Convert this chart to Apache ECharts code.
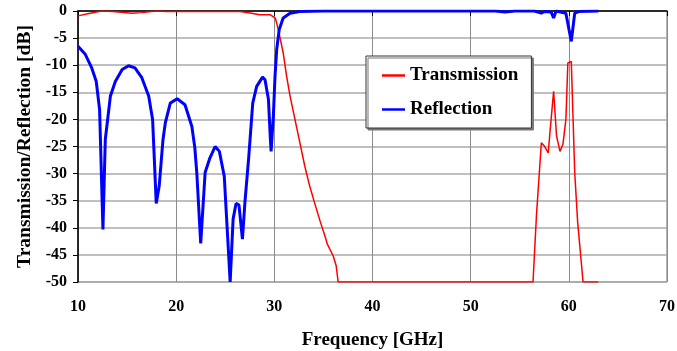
<!DOCTYPE html>
<html>
<head>
<meta charset="utf-8">
<script src="https://cdn.jsdelivr.net/npm/echarts@6/dist/echarts.min.js"></script>
<style>
  html, body { margin: 0; padding: 0; background: #fff; }
  #chart { width: 677px; height: 351px; }
</style>
</head>
<body>
<div id="chart"></div>
<script>
// 轴刻度
const xTicks = [10, 20, 30, 40, 50, 60, 70];
const yTicks = [0, -5, -10, -15, -20, -25, -30, -35, -40, -45, -50];

// Transmission (红线)
const transFreq = [10, 11, 12.4, 13.5, 14.4, 15.5, 16.5, 18, 19, 22, 25, 26.5, 27.7, 28.5, 29.6, 30.1, 30.4, 30.9, 31.25, 31.6, 32.1, 32.6, 33.1, 33.6, 34.1, 34.7, 35.05, 35.4, 36.0, 36.3, 36.5, 56.35, 56.7, 57.2, 57.5, 57.9, 58.1, 58.45, 58.75, 59.1, 59.4, 59.7, 59.9, 60.25, 60.6, 60.9, 61.3, 61.45, 63.0];
const transDb = [-0.9, -0.5, 0, -0.1, -0.25, -0.4, -0.3, 0, -0.1, -0.1, -0.1, -0.1, -0.4, -0.7, -0.7, -1.3, -3.4, -7.7, -12.0, -15.7, -20.0, -24.3, -28.6, -32.3, -35.4, -39.0, -40.9, -43.0, -45.2, -47.0, -50, -50, -37.8, -24.3, -24.9, -26.2, -21.9, -14.8, -23.1, -25.9, -24.6, -20.0, -9.6, -9.3, -29.8, -39.0, -47.0, -50, -50];

// Reflection (蓝线)
const reflFreq = [10, 10.74, 11.4, 11.86, 12.2, 12.54, 12.78, 13.3, 13.8, 14.5, 15.15, 15.8, 16.5, 17.2, 17.6, 17.97, 18.27, 18.66, 18.9, 19.4, 20.1, 20.9, 21.6, 21.9, 22.1, 22.5, 22.95, 23.4, 23.97, 24.4, 24.9, 25.5, 25.8, 26.1, 26.4, 26.75, 27.0, 27.4, 27.8, 28.2, 28.8, 29.05, 29.4, 29.6, 29.67, 29.9, 30.07, 30.24, 30.5, 30.9, 31.6, 32.6, 35, 52.5, 53.5, 54.5, 56.5, 57.2, 57.5, 58.2, 58.45, 58.7, 59.7, 60.25, 60.6, 61, 63.0];
const reflDb = [-6.5, -8.0, -10.5, -13, -18.2, -40.3, -23.7, -15.7, -13, -10.8, -10.1, -10.5, -12.3, -15.7, -20, -35.5, -32.3, -23.7, -20.6, -17, -16.2, -17.3, -21.3, -25.2, -29.8, -42.9, -29.8, -27.3, -25.0, -25.9, -30.5, -50, -38.4, -35.5, -35.8, -42.1, -35.4, -26.8, -17, -13.9, -12.2, -12.7, -16.3, -23.7, -25.9, -19.4, -12.0, -7.1, -3.4, -1.3, -0.4, -0.1, 0, 0, -0.2, 0, 0, -0.4, -0.1, -0.2, -1.3, 0, -0.4, -5.6, -0.4, -0.1, 0];

const zip = (xs, ys) => xs.map((x, i) => [x, ys[i]]);
const font = '"Liberation Serif", "Times New Roman", serif';

const chart = echarts.init(document.getElementById('chart'));
chart.setOption({
    animation: false,
    backgroundColor: '#fff',
    grid: {
        left: 78, right: 10, top: 11, bottom: 69,
        outerBoundsMode: 'none',
        containLabel: false,
        show: true, borderColor: '#666', borderWidth: 1
    },
    legend: {
        left: 366, top: 56,
        orient: 'vertical',
        padding: [10, 13, 9, 16],
        itemGap: 15,
        itemWidth: 23,
        itemHeight: 2.5,
        backgroundColor: '#fff',
        borderColor: '#333',
        borderWidth: 1,
        shadowColor: '#777',
        shadowOffsetX: 2,
        shadowOffsetY: 2,
        shadowBlur: 0,
        textStyle: { fontFamily: font, fontWeight: 'bold', fontSize: 19, color: '#000' },
        data: [
            { name: 'Transmission', icon: 'rect' },
            { name: 'Reflection', icon: 'rect' }
        ]
    },
    xAxis: {
        type: 'value',
        min: xTicks[0], max: xTicks[xTicks.length - 1], interval: 10,
        name: 'Frequency [GHz]',
        nameLocation: 'middle',
        nameGap: 49,
        nameTextStyle: { fontFamily: font, fontWeight: 'bold', fontSize: 19, color: '#000' },
        axisLine: { lineStyle: { color: '#000', width: 1.5 } },
        axisTick: { show: true, length: 5, lineStyle: { color: '#000' } },
        axisLabel: { margin: 17, fontFamily: font, fontWeight: 'bold', fontSize: 16, color: '#000' },
        splitLine: { show: true, lineStyle: { color: '#8c8c8c', width: 1 } }
    },
    yAxis: {
        type: 'value',
        min: yTicks[yTicks.length - 1], max: yTicks[0], interval: 5,
        name: 'Transmission/Reflection [dB]',
        nameLocation: 'middle',
        nameGap: 43,
        nameTextStyle: { fontFamily: font, fontWeight: 'bold', fontSize: 19.5, color: '#000' },
        axisLine: { show: true, lineStyle: { color: '#000', width: 1.5 } },
        axisTick: { show: true, length: 5, lineStyle: { color: '#000' } },
        axisLabel: { margin: 11, fontFamily: font, fontWeight: 'bold', fontSize: 16, color: '#000' },
        splitLine: { show: true, lineStyle: { color: '#aaaaaa', width: 1.5 } }
    },
    series: [
        {
            name: 'Transmission',
            type: 'line',
            data: zip(transFreq, transDb),
            showSymbol: false,
            color: '#ff0000',
            lineStyle: { color: '#ff0000', width: 1.5 },
            z: 3
        },
        {
            name: 'Reflection',
            type: 'line',
            data: zip(reflFreq, reflDb),
            showSymbol: false,
            color: '#0000ff',
            lineStyle: { color: '#0000ff', width: 3 },
            z: 4
        }
    ]
});
</script>
</body>
</html>
